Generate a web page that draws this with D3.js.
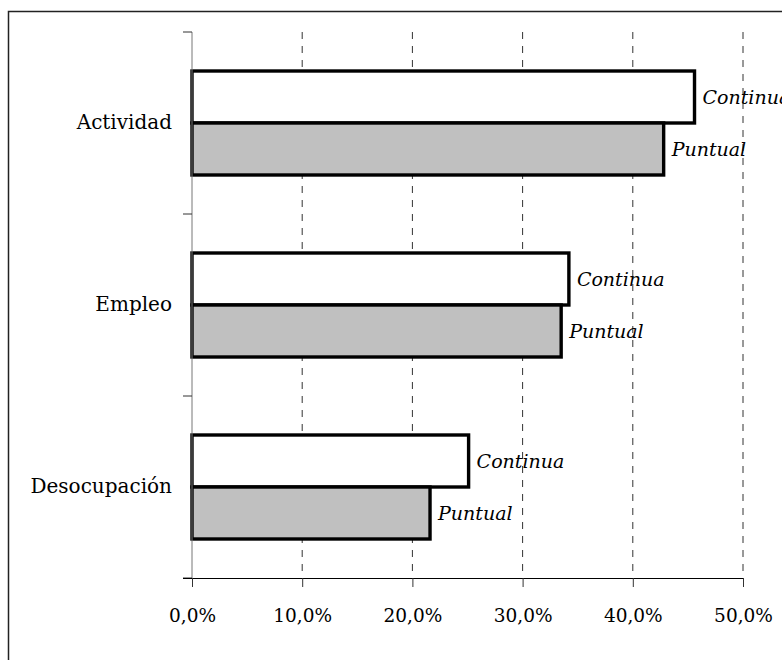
<!DOCTYPE html>
<html>
<head>
<meta charset="utf-8">
<script src="https://cdn.jsdelivr.net/npm/d3@7"></script>
<style>
  body { margin: 0; background: #fff; }
  text { font-family: "DejaVu Serif", "Liberation Serif", serif; }
</style>
</head>
<body>
<main></main>
<script>
// categories and series (fraction values)
var categories = ["Actividad", "Empleo", "Desocupación"];
var seriesNames = ["Continua", "Puntual"];
var continua = [0.456, 0.342, 0.251];
var puntual  = [0.428, 0.335, 0.216];
var xTicks = [0, 0.1, 0.2, 0.3, 0.4, 0.5];

var w = 782,
    h = 660,
    plotLeft = 192,
    plotTop = 32,
    plotW = 551,
    plotH = 546;

var svg = d3.select("main")
            .append("svg")
            .attr("width", w)
            .attr("height", h)
            .style("display", "block");

// outer frame (runs off the right and bottom edges)
svg.append("rect")
   .attr("x", 8.5).attr("y", 11.5)
   .attr("width", 800).attr("height", 700)
   .attr("fill", "none")
   .attr("stroke", "#222")
   .attr("stroke-width", 1.5);

var x = d3.scaleLinear().domain([0, 0.5]).range([plotLeft, plotLeft + plotW]);

var y = d3.scaleBand()
          .domain(categories)
          .range([plotTop, plotTop + plotH])
          .paddingInner(0.4286)
          .paddingOuter(0.2143);

var sub = d3.scaleBand()
            .domain(seriesNames)
            .range([0, y.bandwidth()]);

// dashed vertical grid
svg.selectAll("line.grid")
   .data(xTicks.slice(1))
   .enter()
   .append("line")
   .attr("class", "grid")
   .attr("x1", function (d) { return x(d); })
   .attr("x2", function (d) { return x(d); })
   .attr("y1", plotTop)
   .attr("y2", plotTop + plotH)
   .attr("stroke", "#333")
   .attr("stroke-dasharray", "7,7");

// bars
var rows = categories.map(function (c, i) {
  return [{cat: c, s: "Continua", v: continua[i]},
          {cat: c, s: "Puntual", v: puntual[i]}];
});
var flat = [].concat.apply([], rows);

svg.selectAll("rect.bar")
   .data(flat)
   .enter()
   .append("rect")
   .attr("class", "bar")
   .attr("x", x(0))
   .attr("y", function (d) { return y(d.cat) + sub(d.s); })
   .attr("width", function (d) { return x(d.v) - x(0); })
   .attr("height", sub.bandwidth())
   .attr("fill", function (d) { return d.s === "Continua" ? "#fff" : "#c0c0c0"; })
   .attr("stroke", "#000")
   .attr("stroke-width", 3.4);

// series labels beside bars
svg.selectAll("text.lab")
   .data(flat)
   .enter()
   .append("text")
   .attr("class", "lab")
   .text(function (d) { return d.s; })
   .attr("x", function (d) { return x(d.v) + 8; })
   .attr("y", function (d) { return y(d.cat) + sub(d.s) + sub.bandwidth() / 2; })
   .attr("dy", "0.35em")
   .attr("font-style", "italic")
   .attr("font-size", "19px")
   .attr("fill", "#000");

// y axis
var yAxis = d3.axisLeft(y).tickSize(0).tickPadding(20);
var gy = svg.append("g")
            .attr("transform", "translate(" + plotLeft + ",0)")
            .call(yAxis);
gy.select(".domain").remove();
gy.selectAll("text").attr("font-size", "20px").attr("fill", "#000");

svg.append("line")
   .attr("x1", plotLeft).attr("x2", plotLeft)
   .attr("y1", plotTop).attr("y2", plotTop + plotH)
   .attr("stroke", "#777");

// category separators on y axis
var sepYs = d3.range(categories.length + 1).map(function (i) {
  return plotTop + i * plotH / categories.length;
});
svg.selectAll("line.sep")
   .data(sepYs)
   .enter()
   .append("line")
   .attr("class", "sep")
   .attr("x1", plotLeft - 9).attr("x2", plotLeft)
   .attr("y1", function (d) { return d; })
   .attr("y2", function (d) { return d; })
   .attr("stroke", "#333");

// x axis
var xAxis = d3.axisBottom(x)
              .tickValues(xTicks)
              .tickSize(9)
              .tickPadding(22)
              .tickFormat(function (d) { return (d * 100).toFixed(1).replace(".", ",") + "%"; });
var gx = svg.append("g")
            .attr("transform", "translate(0," + (plotTop + plotH) + ")")
            .call(xAxis);
gx.select(".domain").attr("d", "M" + (plotLeft - 9) + ",0.5H" + (plotLeft + plotW)).attr("stroke", "#000");
gx.selectAll(".tick line").attr("stroke", "#333");
gx.selectAll("text").attr("font-size", "18.5px").attr("fill", "#000");
</script>
</body>
</html>
